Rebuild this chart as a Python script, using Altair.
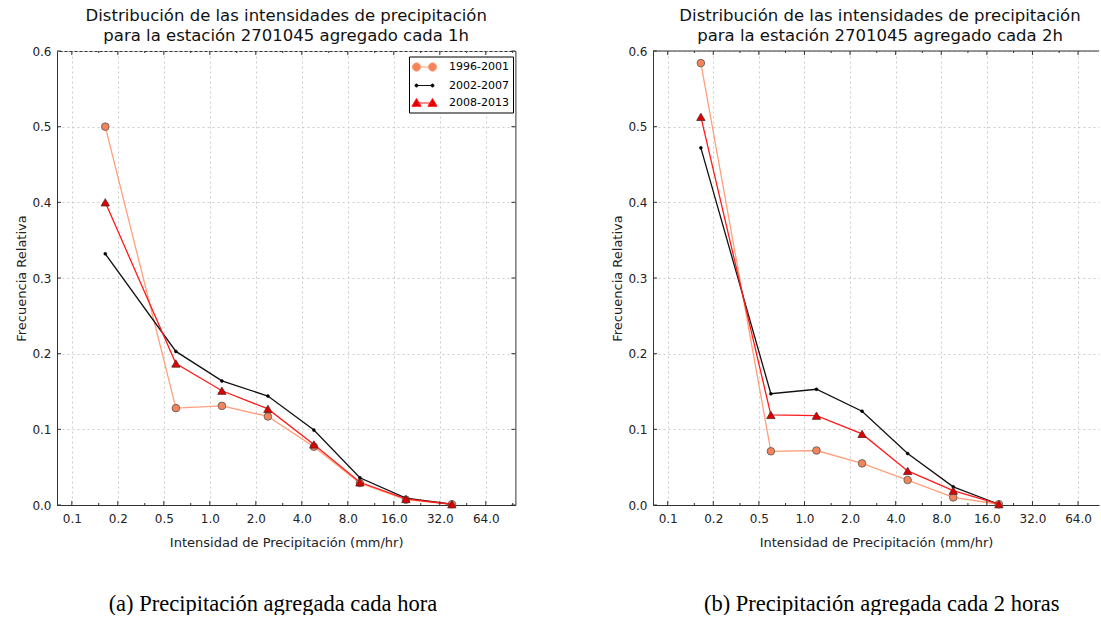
import altair as alt
import pandas as pd

SERIES = ["1996-2001", "2002-2007", "2008-2013"]

# Panel (a): aggregated every 1 h
X_1H = [0.207, 0.6, 1.2, 2.4, 4.8, 9.6, 19.2, 38.4]
Y_1H_9601 = [0.500, 0.128, 0.131, 0.117, 0.077, 0.029, 0.007, 0.001]
Y_1H_0207 = [0.332, 0.203, 0.164, 0.144, 0.099, 0.036, 0.009, 0.001]
Y_1H_0813 = [0.400, 0.187, 0.151, 0.127, 0.080, 0.030, 0.008, 0.001]

# Panel (b): aggregated every 2 h
X_2H = [0.207, 0.6, 1.2, 2.4, 4.8, 9.6, 19.2]
Y_2H_9601 = [0.584, 0.071, 0.072, 0.055, 0.033, 0.010, 0.001]
Y_2H_0207 = [0.472, 0.147, 0.153, 0.124, 0.068, 0.024, 0.001]
Y_2H_0813 = [0.513, 0.119, 0.118, 0.094, 0.045, 0.019, 0.001]

X_TICKS = [0.125, 0.25, 0.5, 1, 2, 4, 8, 16, 32, 64]
X_TICK_LABELS = ["0.1", "0.2", "0.5", "1.0", "2.0", "4.0", "8.0", "16.0", "32.0", "64.0"]
X_MINOR = [0.1875, 0.375, 0.75, 1.5, 3, 6, 12, 24, 48, 96]
Y_TICKS = [0.0, 0.1, 0.2, 0.3, 0.4, 0.5, 0.6]

TITLE_A = ["Distribución de las intensidades de precipitación", "para la estación 2701045 agregado cada 1h"]
TITLE_B = ["Distribución de las intensidades de precipitación", "para la estación 2701045 agregado cada 2h"]
CAPTION_A = "(a) Precipitación agregada cada hora"
CAPTION_B = "(b) Precipitación agregada cada 2 horas"
X_TITLE = "Intensidad de Precipitación (mm/hr)"
Y_TITLE = "Frecuencia Relativa"

LINE_COLORS = ["#ffa07a", "#111111", "#ff1a1a"]
MARK_FILLS = ["#f5845a", "#000000", "#e00000"]

# legend handle glyphs: marker - line - marker
LEG_PATHS = [
    "M-2,0A0.667,0.667,0,1,0,-0.667,0A0.667,0.667,0,1,0,-2,0Z"
    "M-0.667,0L0.667,0"
    "M0.667,0A0.667,0.667,0,1,0,2,0A0.667,0.667,0,1,0,0.667,0Z",
    "M-1.583,0A0.25,0.25,0,1,0,-1.083,0A0.25,0.25,0,1,0,-1.583,0Z"
    "M-1.333,0L1.333,0"
    "M1.083,0A0.25,0.25,0,1,0,1.583,0A0.25,0.25,0,1,0,1.083,0Z",
    "M-2.1,0.55L-1.333,-0.75L-0.566,0.55Z"
    "M-1.333,0L1.333,0"
    "M0.566,0.55L1.333,-0.75L2.1,0.55Z",
]

FONT = "DejaVu Sans"
H = 454

label_expr = "".join(f"datum.value == {v} ? '{l}' : " for v, l in zip(X_TICKS, X_TICK_LABELS)) + "''"


def make_panel(xs, ys, title, caption, width, xmax, full_frame, title_dx, cap_dx, leg_x):
    xsc = alt.Scale(type="log", base=2, domain=[0.1, xmax], nice=False)
    ysc = alt.Scale(domain=[0, 0.6], nice=False, zero=False)
    majors = [v for v in X_TICKS if v <= xmax]
    minors = [v for v in X_MINOR if v <= xmax]

    xax = alt.Axis(values=majors, labelExpr=label_expr, title=X_TITLE, grid=True,
                   gridDash=[2, 3], gridColor="#cccccc", ticks=False, domain=True,
                   domainColor="#333", labelPadding=8.5, titlePadding=11.5, labelFlush=False)
    yax = alt.Axis(values=Y_TICKS, format=".1f", title=Y_TITLE, grid=True,
                   gridDash=[2, 3], gridColor="#cccccc", ticks=False, domain=True,
                   domainColor="#333", labelPadding=6, titlePadding=3)

    def X(f):
        return alt.X(f, scale=xsc, axis=xax)

    def Y(f):
        return alt.Y(f, scale=ysc, axis=yax)

    layers = []
    # series
    for i, s in enumerate(SERIES):
        d = pd.DataFrame({"x": xs, "y": ys[i]})
        enc = dict(x=X("x:Q"), y=Y("y:Q"))
        layers.append(alt.Chart(d).mark_line(color=LINE_COLORS[i], strokeWidth=1.3).encode(**enc))
        if i == 0:
            pm = alt.Chart(d).mark_point(shape="circle", size=58, filled=True, fill=MARK_FILLS[0],
                                         stroke="#555555", strokeWidth=0.8, opacity=1)
        elif i == 1:
            pm = alt.Chart(d).mark_point(shape="circle", size=9, filled=True, fill="#000000",
                                         stroke="#000000", strokeWidth=0.5, opacity=1)
        else:
            pm = alt.Chart(d).mark_point(shape="triangle-up", size=70, filled=True, fill=MARK_FILLS[2],
                                         stroke="#5a2222", strokeWidth=0.8, opacity=1)
        layers.append(pm.encode(**enc))

    # tick marks drawn inward
    maj = pd.DataFrame({"t": majors})
    mnr = pd.DataFrame({"t": minors})
    yt = pd.DataFrame({"t": Y_TICKS})
    tick = dict(color="#333", strokeWidth=1)
    for dfv, y1, y2 in [(maj, H, H - 4), (maj, 0, 4), (mnr, H, H - 2), (mnr, 0, 2)]:
        layers.append(
            alt.Chart(dfv).mark_rule(**tick).encode(
                x=X("t:Q"), y=alt.value(y1), y2=alt.value(y2))
        )
    yspecs = [(0, 4)]
    if full_frame:
        yspecs.append((width - 4, width))
    for x1, x2 in yspecs:
        layers.append(
            alt.Chart(yt).mark_rule(**tick).encode(
                y=Y("t:Q"), x=alt.value(x1), x2=alt.value(x2))
        )
    if not full_frame:
        layers.append(
            alt.Chart(pd.DataFrame({"t": [0.6]})).mark_rule(color="#333", strokeWidth=1).encode(
                y=Y("t:Q"), x=alt.value(0), x2=alt.value(width))
        )

    # legend
    leg = alt.Legend(title=None, orient="none", legendX=leg_x, legendY=5.5, padding=4, symbolSize=144,
                     symbolOffset=5, labelOffset=18, rowPadding=5.5, labelFontSize=11,
                     labelFont=FONT, labelColor="#000", strokeColor="#000", fillColor="#fff",
                     symbolStrokeWidth=1, labelLimit=200)
    legdf = pd.DataFrame({"series": SERIES})
    layers.append(
        alt.Chart(legdf).transform_filter("false").mark_point(opacity=1, strokeWidth=1).encode(
            shape=alt.Shape("series:N", scale=alt.Scale(domain=SERIES, range=LEG_PATHS), legend=leg),
            fill=alt.Fill("series:N", scale=alt.Scale(domain=SERIES, range=MARK_FILLS), legend=leg),
            stroke=alt.Stroke("series:N", scale=alt.Scale(domain=SERIES, range=LINE_COLORS), legend=leg),
        )
    )

    view = alt.ViewBackground(stroke="#333" if full_frame else "transparent", strokeWidth=1)
    p = alt.layer(*layers).properties(
        width=width, height=H, view=view,
        title=alt.TitleParams(text=title, fontSize=16.5, font=FONT, fontWeight="normal",
                              anchor="middle", frame="group", offset=1, color="#111",
                              lineHeight=20, dx=title_dx),
    )
    return alt.vconcat(p).properties(
        title=alt.TitleParams(text=caption, orient="bottom", anchor="middle", font="Liberation Serif",
                              fontSize=22.5, fontWeight="normal", color="#000", offset=43, dx=cap_dx)
    )


pa = make_panel(X_1H, [Y_1H_9601, Y_1H_0207, Y_1H_0813], TITLE_A, CAPTION_A, 458.4, 100, True, 0, 7, 352)
pb = make_panel(X_2H, [Y_2H_9601, Y_2H_0207, Y_2H_0813], TITLE_B, CAPTION_B, 446, 88.0, False, 4, 26, 340)

chart = alt.hconcat(pa, pb, spacing=94).properties(
    padding={"left": 15, "top": 7, "right": 0, "bottom": 0}
).configure_axis(
    labelFont=FONT, labelFontSize=12, labelColor="#222",
    titleFont=FONT, titleFontSize=13, titleFontWeight="normal", titleColor="#222",
).configure_view(stroke="transparent")

chart.save("out.html", embed_options={"renderer": "svg", "actions": False})
